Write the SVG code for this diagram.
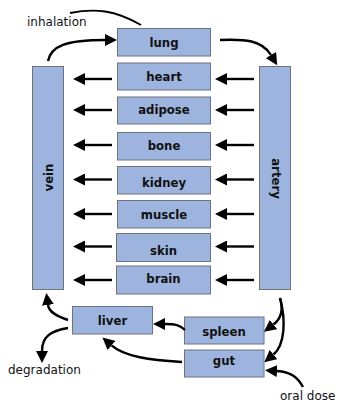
<svg xmlns="http://www.w3.org/2000/svg" width="337" height="402" viewBox="0 0 337 402">
<style>
.box{fill:#9db5de;stroke:#6c7480;stroke-width:1}
.lbl{font-family:"DejaVu Sans",Verdana,sans-serif;font-weight:bold;font-size:11.7px;fill:#111;text-anchor:middle}
.txt{font-family:"DejaVu Sans",Verdana,sans-serif;font-size:12px;fill:#111}
.arr{fill:none;stroke:#000;stroke-width:2.4;marker-end:url(#ah)}
.ln{fill:none;stroke:#000;stroke-width:1.8}
</style>
<defs>
<marker id="ah" markerUnits="userSpaceOnUse" viewBox="0 0 12 12" markerWidth="12" markerHeight="12" refX="0" refY="6" orient="auto">
<path d="M0,0 L12,6 L0,12 z" fill="#000"/>
</marker>
</defs>
<rect width="337" height="402" fill="#fff"/>
<g id="vein"><rect class="box" x="32.5" y="66.5" width="31" height="223"/><text class="lbl" transform="translate(52.5,177.5) rotate(-90)">vein</text></g>
<g id="artery"><rect class="box" x="259.5" y="66.5" width="31" height="223"/><text class="lbl" transform="translate(271.5,178.5) rotate(90)">artery</text></g>
<g id="lung"><rect class="box" x="117.5" y="28.5" width="93" height="27.5"/><text class="lbl" x="164" y="47">lung</text></g>
<g id="heart"><rect class="box" x="117.5" y="63" width="93" height="27"/><text class="lbl" x="164" y="81">heart</text></g>
<g id="adipose"><rect class="box" x="117.5" y="97" width="93" height="27"/><text class="lbl" x="164" y="113.5">adipose</text></g>
<g id="bone"><rect class="box" x="117.5" y="132.5" width="93" height="27.5"/><text class="lbl" x="164" y="150">bone</text></g>
<g id="kidney"><rect class="box" x="117.5" y="166.5" width="93" height="27.5"/><text class="lbl" x="164" y="187">kidney</text></g>
<g id="muscle"><rect class="box" x="117.5" y="200.5" width="93" height="27.5"/><text class="lbl" x="164" y="219">muscle</text></g>
<g id="skin"><rect class="box" x="116.5" y="233.5" width="94" height="28"/><text class="lbl" x="163.5" y="255">skin</text></g>
<g id="brain"><rect class="box" x="116.5" y="266" width="94" height="28"/><text class="lbl" x="163.5" y="283">brain</text></g>
<g id="liver"><rect class="box" x="72.5" y="306.5" width="80" height="27.5"/><text class="lbl" x="112.5" y="325">liver</text></g>
<g id="spleen"><rect class="box" x="184.5" y="317" width="79.5" height="27"/><text class="lbl" x="224" y="335.5">spleen</text></g>
<g id="gut"><rect class="box" x="184.5" y="350" width="79.5" height="27"/><text class="lbl" x="224" y="365">gut</text></g>
<g id="labels">
<text class="txt" x="27" y="25.5">inhalation</text>
<text class="txt" x="8" y="374">degradation</text>
<text class="txt" x="280" y="400">oral dose</text>
</g>
<g id="connectors">
<path class="ln" d="M70,13 C95,8 115,10 141,25"/>
<path class="arr" d="M48,61 C51,46 66,40 105,40"/>
<path class="arr" d="M220,40 C245,39 262,40 271,55"/>
<path class="arr" d="M254,79 L227,79"/>
<path class="arr" d="M254,110 L227,110"/>
<path class="arr" d="M254,145 L227,145"/>
<path class="arr" d="M254,179.5 L227,179.5"/>
<path class="arr" d="M254,214 L227,214"/>
<path class="arr" d="M254,246.5 L227,246.5"/>
<path class="arr" d="M254,280 L227,280"/>
<path class="arr" d="M112,79 L85,79"/>
<path class="arr" d="M112,110 L85,110"/>
<path class="arr" d="M112,145 L85,145"/>
<path class="arr" d="M112,179.5 L85,179.5"/>
<path class="arr" d="M112,214 L85,214"/>
<path class="arr" d="M112,246.5 L85,246.5"/>
<path class="arr" d="M112,280 L85,280"/>
<path class="arr" d="M280,298 C283,308 282,318 273.5,324.5"/>
<path class="arr" d="M280,298 C286,320 285,345 273.5,354.5"/>
<path class="arr" d="M303,387 C298,378 292,372 277,371"/>
<path class="arr" d="M185,330 C180,325 175,324 165,324"/>
<path class="arr" d="M182,362 C150,360 125,357 111.5,345.4"/>
<path class="arr" d="M68,320 C56,316 49,312 48,305"/>
<path class="arr" d="M68,328 C50,331 42,337 42,351"/>
</g>
</svg>
